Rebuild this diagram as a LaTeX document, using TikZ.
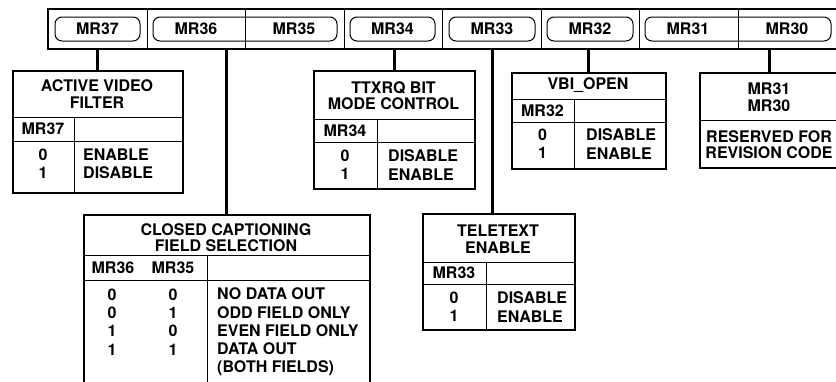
\documentclass[tikz,border=0pt]{standalone}
\usepackage{fontspec}
\setmainfont{TeX Gyre Heros}
\usetikzlibrary{positioning}

\begin{document}
\begin{tikzpicture}[x=1pt,y=-1pt,
    font=\bfseries\fontsize{16}{18.3}\selectfont,
    frame/.style={draw,line width=1.6pt,inner sep=0pt,anchor=north west},
    rule/.style={line width=1pt},
    field/.style={draw,line width=1pt,rounded corners=7pt,minimum height=24pt,inner sep=0pt},
    conn/.style={line width=3pt},
    txt/.style={inner sep=0pt,align=center},
    ttl/.style={txt,font=\bfseries\fontsize{16}{16.5}\selectfont},
    lst/.style={inner sep=0pt,align=left,anchor=west}]
        \useasboundingbox (0,0) rectangle (836,381);
        \clip (0,0) rectangle (836,381);
        % register bar
        \node[frame,line width=2pt,minimum width=793pt,minimum height=40pt] (bar) at (47,8) {};
        \foreach \x in {147,245,344,442,541,639,738}
            \draw[rule] (\x,8) -- (\x,48);
        \node[field,minimum width=85pt] (f37) at (97.5,29) {MR37};
        \node[field,minimum width=184pt] (f36) at (245,29) {};
        \node[txt] (l36) at (196,29) {MR36};
        \node[txt] (l35) at (294,29) {MR35};
        \node[field,minimum width=85pt] (f34) at (392.5,29) {MR34};
        \node[field,minimum width=86pt] (f33) at (492,29) {MR33};
        \node[field,minimum width=86pt] (f32) at (590,29) {MR32};
        \node[field,minimum width=186pt] (f31) at (738,29) {};
        \node[txt] (l31) at (688,29) {MR31};
        \node[txt] (l30) at (787,29) {MR30};
        % active video filter
        \node[frame,minimum width=170pt,minimum height=122pt] (avf) at (12,70) {};
        \draw[rule] (12,117) -- (182,117) (12,141) -- (182,141) (74,117) -- (74,192);
        \node[ttl] (avft) at (97,94) {ACTIVE VIDEO\\FILTER};
        \node[txt] (avfh) at (43,129) {MR37};
        \node[txt] (avfb) at (43,163.5) {0\\1};
        \node[lst] (avfv) at (83,163.5) {ENABLE\\DISABLE};
        % ttxrq bit
        \node[frame,minimum width=161pt,minimum height=118pt] (ttx) at (313,70) {};
        \draw[rule] (313,119) -- (474,119) (313,142) -- (474,142) (377,119) -- (377,188);
        \node[ttl] (ttxt) at (393.5,95.5) {TTXRQ BIT\\MODE CONTROL};
        \node[txt] (ttxh) at (345,130.5) {MR34};
        \node[txt] (ttxb) at (345,165) {0\\1};
        \node[lst] (ttxv) at (388,165) {DISABLE\\ENABLE};
        % vbi open
        \node[frame,minimum width=154pt,minimum height=96pt] (vbi) at (511,72) {};
        \draw[rule] (511,99) -- (665,99) (511,122) -- (665,122) (574,99) -- (574,168);
        \node[ttl] (vbit) at (588,85.5) {VBI\_OPEN};
        \node[txt] (vbih) at (542.5,110.5) {MR32};
        \node[txt] (vbib) at (542.5,144) {0\\1};
        \node[lst] (vbiv) at (586,144) {DISABLE\\ENABLE};
        % reserved
        \node[frame,minimum width=140pt,minimum height=95pt] (res) at (699,72) {};
        \draw[rule] (699,120) -- (840,120);
        \node[ttl] (rest) at (769,97) {MR31\\MR30};
        \node[ttl] (resv) at (769,144.5) {RESERVED FOR\\REVISION CODE};
        % closed captioning
        \node[frame,minimum width=286pt,minimum height=190pt] (cc) at (83,214) {};
        \draw[rule] (83,255) -- (369,255) (83,280) -- (369,280) (207,255) -- (207,400);
        \node[ttl] (cct) at (226,237.5) {CLOSED CAPTIONING\\FIELD SELECTION};
        \node[txt] (cch36) at (113,268) {MR36};
        \node[txt] (cch35) at (173,268) {MR35};
        \node[txt] (ccb36) at (112,322) {0\\0\\1\\1};
        \node[txt] (ccb35) at (173,322) {0\\1\\0\\1};
        \node[lst] (ccv) at (217,332) {NO DATA OUT\\ODD FIELD ONLY\\EVEN FIELD ONLY\\DATA OUT\\(BOTH FIELDS)};
        % teletext
        \node[frame,minimum width=152pt,minimum height=116pt] (tt) at (422,213) {};
        \draw[rule] (422,262) -- (574,262) (422,284) -- (574,284) (486,262) -- (486,329);
        \node[ttl] (ttt) at (498,239) {TELETEXT\\ENABLE};
        \node[txt] (tth) at (454,273) {MR33};
        \node[txt] (ttb) at (454,307) {0\\1};
        \node[lst] (ttv) at (497,307) {DISABLE\\ENABLE};
        % connectors
        \draw[conn] (avf.north |- bar.south) -- (avf.north);
        \draw[conn] (cc.north |- bar.south) -- (cc.north);
        \draw[conn] (ttx.north |- bar.south) -- (ttx.north);
        \draw[conn] (f33 |- bar.south) -- (f33 |- tt.north);
        \draw[conn] (vbi.north |- bar.south) -- (vbi.north);
        \draw[conn] (res.north |- bar.south) -- (res.north);
\end{tikzpicture}
\end{document}
